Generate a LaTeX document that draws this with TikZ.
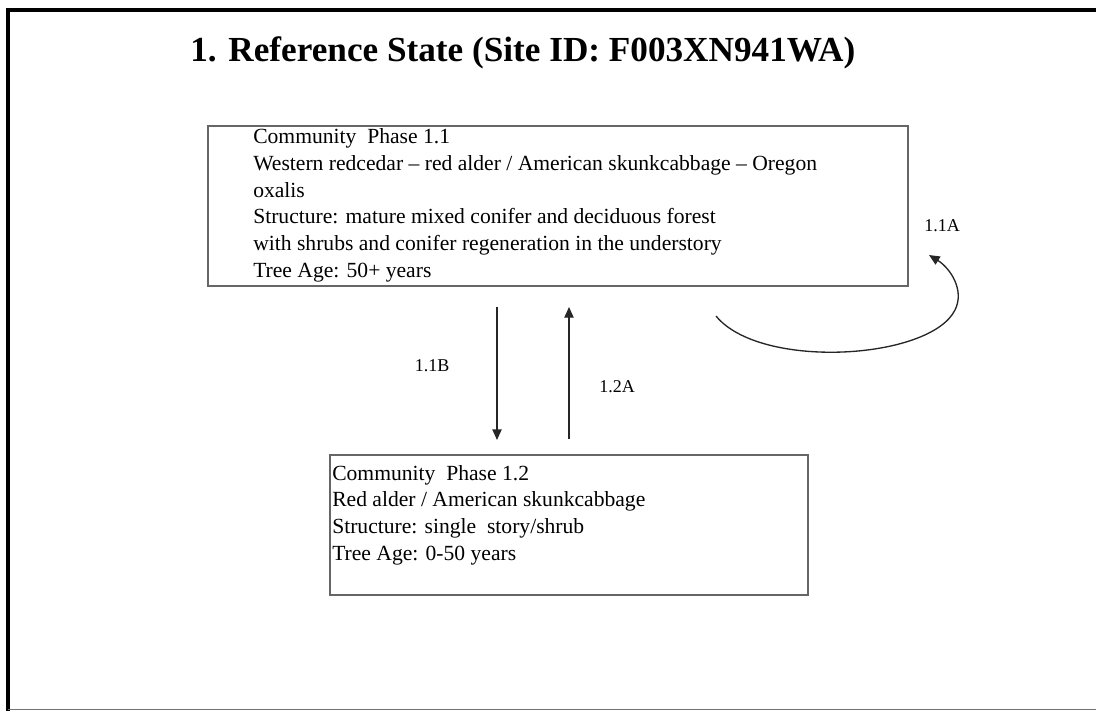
\documentclass[tikz,border=0pt]{standalone}
\usepackage{fontspec}
\setmainfont{Liberation Serif}
\usetikzlibrary{arrows.meta}
\begin{document}
\begin{tikzpicture}[x=0.75pt,y=-0.75pt,
  frameline/.style={line width=2.6pt, black},
  phasebox/.style={draw=black!60, line width=1.2pt, rectangle, inner sep=0pt, anchor=north west},
  phasetext/.style={anchor=north west, inner sep=0pt, align=left, text=black,
    font=\fontsize{16.2}{20}\selectfont},
  lbl/.style={inner sep=1pt, text=black, font=\fontsize{13.5}{15}\selectfont},
  conn/.style={draw=black!85, line width=1pt, -{Triangle[length=8pt,width=7pt]}}]
\useasboundingbox (0,0) rectangle (1096,711);
% page frame
\draw[frameline] (8,711) -- (8,10) -- (1096,10);
\draw[black!55, line width=1.1pt] (8,709.5) -- (1096,709.5);
% title
\node[anchor=base west, inner sep=0pt, font=\fontsize{26.4}{30}\selectfont\bfseries] (title) at (190,61)
  {1. Reference State (Site ID: F003XN941WA)};
% boxes
\node[phasebox, minimum width=525pt, minimum height=120pt] (box1) at (207,125) {};
\node[phasetext] (t1) at (253,128.5) {Community\ \ Phase 1.1\\
Western redcedar -- red alder / American skunkcabbage -- Oregon\\
oxalis\\
Structure: mature mixed conifer and deciduous forest\\
with shrubs and conifer regeneration in the understory\\
Tree Age: 50+ years};
\node[phasebox, minimum width=358.5pt, minimum height=105pt] (box2) at (329,454) {};
\node[phasetext] (t2) at (332,465) {Community\ \ Phase 1.2\\
Red alder / American skunkcabbage\\
Structure: single\ \ story/shrub\\
Tree Age: 0-50 years};
% connector end points
\coordinate (b1s) at (497,307);
\coordinate (b2n) at (497,440);
\coordinate (b2u) at (569,439);
\coordinate (b1u) at (569,307);
\coordinate (loopA) at (716,316);
\coordinate (loopB) at (929,255);
% connectors
\draw[conn] (b1s) -- (b2n);
\draw[conn] (b2u) -- (b1u);
\draw[conn] (loopA) .. controls (760,370) and (930,360) .. (955,310)
  .. controls (965,290) and (950,268) .. (loopB);
% labels
\node[lbl] (l11b) at (432,366) {1.1B};
\node[lbl] (l12a) at (617,387) {1.2A};
\node[lbl] (l11a) at (942,226) {1.1A};
\end{tikzpicture}
\end{document}
